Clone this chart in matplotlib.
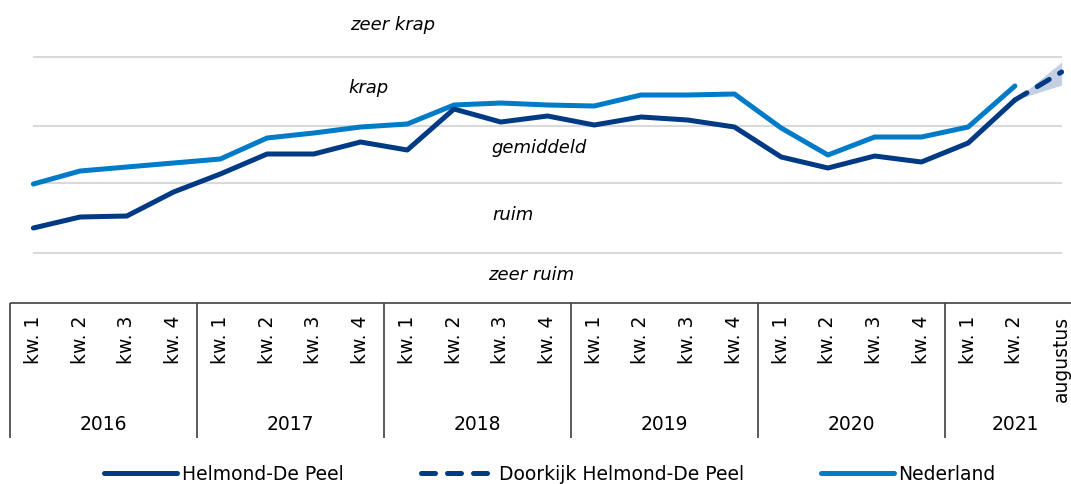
import numpy as np
import matplotlib.pyplot as plt

# kwartalen 2016 kw.1 t/m 2021 kw.2, plus augustus 2021
quarters = ['kw. 1', 'kw. 2', 'kw. 3', 'kw. 4'] * 5 + ['kw. 1', 'kw. 2', 'augustus']
years = ['2016', '2017', '2018', '2019', '2020', '2021']
year_sizes = [4, 4, 4, 4, 4, 3]

helmond = [7.2, 8.3, 8.4, 10.8, 12.6, 14.6, 14.6, 15.8, 15.0, 19.1, 17.8,
           18.4, 17.5, 18.3, 18.0, 17.3, 14.3, 13.2, 14.4, 13.8, 15.7, 20.0]
nederland = [11.6, 12.9, 13.3, 13.7, 14.1, 16.2, 16.7, 17.3, 17.6, 19.5, 19.7,
             19.5, 19.4, 20.5, 20.5, 20.6, 17.2, 14.5, 16.3, 16.3, 17.3, 21.4]
doorkijk = [20.0, 22.8]
doorkijk_low = [20.0, 21.5]
doorkijk_high = [20.0, 23.8]

# grenzen tussen de klassen (zeer ruim .. zeer krap)
grens = [4.7, 11.7, 17.4, 24.3]
klassen = [('zeer krap', 6.78, 27.5), ('krap', 6.75, 21.2), ('gemiddeld', 9.79, 15.2),
           ('ruim', 9.83, 8.5), ('zeer ruim', 9.73, 2.5)]

dark = '#003a84'
light = '#007bc7'
fs = 13.5

plt.rcParams['font.family'] = 'DejaVu Sans'
W, H = 1071, 484
fig = plt.figure(figsize=(W / 100, H / 100), dpi=100)

left = 10 / W
width = 1075 / W
ax = fig.add_axes([left, 1 - 300 / H, width, 300 / H])
ax.set_xlim(-0.5, 22.5)
ax.set_ylim(0, 30)
ax.axis('off')

n = len(quarters)
ax.hlines(grens, 0, n - 1, color='#d9d9d9', lw=1.5, zorder=1)

x_h = np.arange(len(helmond))
x_n = np.arange(len(nederland))
x_d = np.array([len(helmond) - 1, n - 1])

ax.fill_between(x_d, doorkijk_low, doorkijk_high, color='#c5cfe2', lw=0, zorder=2)
ax.plot(x_n, nederland, color=light, lw=3.6, solid_capstyle='round',
        solid_joinstyle='round', zorder=3, label='Nederland')
ax.plot(x_h, helmond, color=dark, lw=3.6, solid_capstyle='round',
        solid_joinstyle='round', zorder=4, label='Helmond-De Peel')
ax.plot(x_d, doorkijk, color=dark, lw=3.6, linestyle=(0, (2.8, 2.4)),
        dash_capstyle='round', zorder=4, label='Doorkijk Helmond-De Peel')

for txt, xx, yy in klassen:
    ax.text(xx, yy, txt, style='italic', fontsize=13, ha='left', va='center')

# categorie-as als tabel
ax2 = fig.add_axes([left, 1 - 438 / H, width, 136 / H])
ax2.set_xlim(-0.5, 22.5)
ax2.set_ylim(438, 302)
ax2.axis('off')
ax2.hlines(302.5, -0.5, 22.5, color='#404040', lw=1.2, clip_on=False)
bounds = np.cumsum([0] + year_sizes) - 0.5
ax2.vlines(bounds[:-1], 302.5, 438, color='#404040', lw=1.2, clip_on=False)
for i, q in enumerate(quarters):
    ax2.text(i, 316, q, rotation=90, ha='center', va='top', fontsize=fs)
for j, y in enumerate(years):
    ax2.text((bounds[j] + bounds[j + 1]) / 2, 425, y, ha='center', va='center', fontsize=fs)

h, l = ax.get_legend_handles_labels()
order = [1, 2, 0]
fig.legend([h[i] for i in order], [l[i] for i in order], loc='center',
           bbox_to_anchor=(550 / W, 1 - 474 / H), ncol=3, frameon=False,
           fontsize=fs, handlelength=3.9, handletextpad=0.25, columnspacing=4.1)

fig.savefig('out.png', dpi=100)
